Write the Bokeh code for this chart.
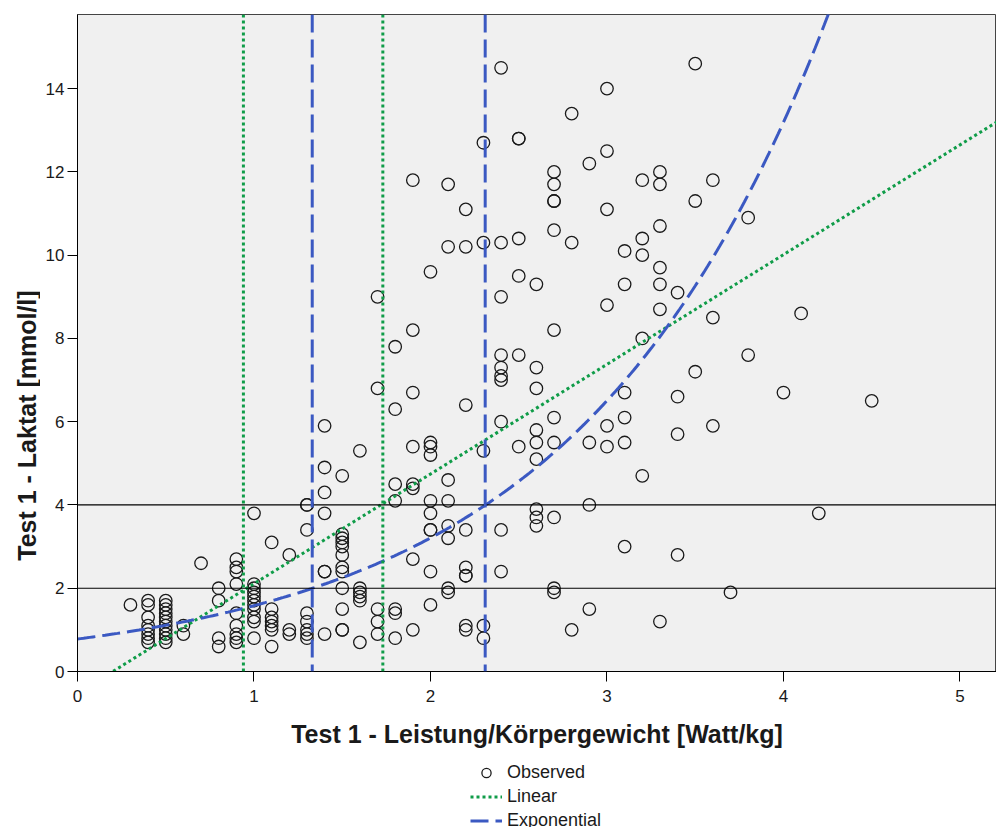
import math
import numpy as np
from bokeh.plotting import figure
from bokeh.models import Range1d, Span, Legend, LegendItem, Label, ColumnDataSource
from bokeh.layouts import column, row
from bokeh.embed import file_html
from bokeh.resources import INLINE

# ---------------- data ----------------
# power levels (Watt/kg) and the lactate values observed at each level (mmol/l)
power_levels = [0.3, 0.4, 0.5, 0.6, 0.7, 0.8, 0.9, 1.0, 1.1, 1.2, 1.3, 1.4, 1.5, 1.6,
                1.7, 1.8, 1.9, 2.0, 2.1, 2.2, 2.3, 2.4, 2.5, 2.6, 2.7, 2.8, 2.9, 3.0,
                3.1, 3.2, 3.3, 3.4, 3.5, 3.6, 3.7, 3.8, 4.0, 4.1, 4.2, 4.5]
lactate_at_level = [
    [1.6],
    [1.7, 1.6, 1.3, 1.1, 1.0, 0.9, 0.8, 0.7],
    [1.7, 1.6, 1.5, 1.4, 1.3, 1.2, 1.1, 1.0, 0.9, 0.8, 0.7],
    [1.1, 0.9],
    [2.6],
    [2.0, 1.7, 0.8, 0.6],
    [2.7, 2.5, 2.4, 2.1, 1.4, 1.1, 0.9, 0.8, 0.7],
    [3.8, 2.1, 2.0, 1.9, 1.8, 1.7, 1.6, 1.5, 1.3, 1.2, 0.8],
    [3.1, 1.5, 1.3, 1.2, 1.1, 1.0, 0.6],
    [2.8, 1.0, 0.9],
    [4.0, 4.0, 3.4, 1.4, 1.2, 1.0, 0.9, 0.8],
    [5.9, 4.9, 4.3, 3.8, 2.4, 2.4, 0.9],
    [4.7, 3.3, 3.2, 3.1, 3.0, 2.8, 2.5, 2.4, 2.0, 1.5, 1.0, 1.0],
    [5.3, 2.0, 1.9, 1.8, 1.7, 0.7],
    [9.0, 6.8, 1.5, 1.2, 0.9],
    [7.8, 6.3, 4.5, 4.1, 1.5, 1.4, 0.8],
    [11.8, 8.2, 6.7, 5.4, 4.5, 4.4, 2.7, 1.0],
    [9.6, 5.5, 5.4, 5.2, 4.1, 3.8, 3.4, 3.4, 2.4, 1.6],
    [11.7, 10.2, 4.6, 4.1, 3.5, 3.2, 2.0, 1.9],
    [11.1, 10.2, 6.4, 3.4, 2.5, 2.3, 2.3, 1.1, 1.0],
    [12.7, 10.3, 5.3, 1.1, 0.8],
    [14.5, 10.3, 9.0, 7.6, 7.3, 7.1, 7.0, 6.0, 3.4, 2.4],
    [12.8, 12.8, 10.4, 9.5, 7.6, 5.4],
    [9.3, 7.3, 6.8, 5.8, 5.5, 5.1, 3.9, 3.7, 3.5],
    [12.0, 11.7, 11.3, 11.3, 10.6, 8.2, 6.1, 5.5, 3.7, 2.0, 1.9],
    [13.4, 10.3, 1.0],
    [12.2, 5.5, 4.0, 1.5],
    [14.0, 12.5, 11.1, 8.8, 5.9, 5.4],
    [10.1, 9.3, 6.7, 6.1, 5.5, 3.0],
    [11.8, 10.4, 10.0, 8.0, 4.7],
    [12.0, 11.7, 10.7, 9.7, 9.3, 8.7, 1.2],
    [9.1, 6.6, 5.7, 2.8],
    [14.6, 11.3, 7.2],
    [11.8, 8.5, 5.9],
    [1.9],
    [10.9, 7.6],
    [6.7],
    [8.6],
    [3.8],
    [6.5],
]

# fitted curves (SPSS curve estimation)
linear_intercept, linear_slope = -0.527, 2.635        # y = b0 + b1*x
exp_scale, exp_rate = 0.78, 0.707                     # y = b0 * exp(b1*x)

# reference lines
ref_lactate = [2, 4]                 # horizontal thresholds (mmol/l)
ref_power_linear = [0.94, 1.73]      # power at 2 and 4 mmol/l, linear fit
ref_power_exp = [1.33, 2.31]         # power at 2 and 4 mmol/l, exponential fit

x_ticks = [0, 1, 2, 3, 4, 5]
y_ticks = [0, 2, 4, 6, 8, 10, 12, 14]

x_title = "Test 1 - Leistung/Körpergewicht [Watt/kg]"
y_title = "Test 1 - Laktat [mmol/l]"
legend_labels = ["Observed", "Linear", "Exponential"]

# ---------------- build ----------------
xs, ys = [], []
for pw, vals in zip(power_levels, lactate_at_level):
    for v in vals:
        xs.append(pw)
        ys.append(v)
obs = ColumnDataSource(dict(x=xs, y=ys))

X_MAX, Y_MAX = 5.207, 15.78
xfit = np.linspace(0, X_MAX, 300)
lin = ColumnDataSource(dict(x=xfit, y=linear_intercept + linear_slope * xfit))
ex = ColumnDataSource(dict(x=xfit, y=exp_scale * np.exp(exp_rate * xfit)))

GREEN = "#0f9c48"
BLUE = "#3b59c2"
FONT = "Liberation Sans"
TEXT = "#1a1a1a"

W_TITLE = 40
W_MAIN = 996 - W_TITLE
H_MAIN = 756
H_LEG = 827 - H_MAIN

circle_style = dict(marker="circle", size=12.5, fill_alpha=0, line_color="#1a1a1a", line_width=1.3)
lin_style = dict(line_color=GREEN, line_width=3, line_dash="3 3")
exp_style = dict(line_color=BLUE, line_width=3, line_dash="18 7")

p = figure(width=W_MAIN, height=H_MAIN, x_range=Range1d(0, X_MAX), y_range=Range1d(0, Y_MAX),
           output_backend="svg", toolbar_location=None,
           min_border_left=77 - W_TITLE, min_border_right=0, min_border_top=14,
           min_border_bottom=H_MAIN - 671,
           background_fill_color="#f0f0f0", border_fill_color="white",
           outline_line_color="#444444", outline_line_width=1)
p.xgrid.visible = False
p.ygrid.visible = False

p.scatter("x", "y", source=obs, **circle_style)

for yv in ref_lactate:
    p.add_layout(Span(location=yv, dimension="width", line_color="black", line_width=1.2))
for xv in ref_power_linear:
    p.add_layout(Span(location=xv, dimension="height", **lin_style))
for xv in ref_power_exp:
    p.add_layout(Span(location=xv, dimension="height", **exp_style))

p.line("x", "y", source=lin, **lin_style)
p.line("x", "y", source=ex, **exp_style)

for ax in (p.xaxis[0], p.yaxis[0]):
    ax.axis_line_color = "black"
    ax.axis_line_width = 1
    ax.major_tick_line_color = "black"
    ax.major_tick_out = 10
    ax.major_tick_in = 0
    ax.minor_tick_line_color = None
    ax.major_label_text_font = FONT
    ax.major_label_text_font_size = "17px"
    ax.major_label_text_color = TEXT

p.xaxis.ticker = x_ticks
p.yaxis.ticker = y_ticks
p.yaxis.major_label_standoff = 3
p.xaxis.major_label_standoff = 8

p.xaxis.axis_label = x_title
p.xaxis.axis_label_text_font = FONT
p.xaxis.axis_label_text_font_style = "bold"
p.xaxis.axis_label_text_font_size = "25px"
p.xaxis.axis_label_text_color = TEXT
p.xaxis.axis_label_standoff = 15

# ---- y title strip (left) ----
pt = figure(width=W_TITLE, height=H_MAIN, x_range=Range1d(0, W_TITLE), y_range=Range1d(0, H_MAIN),
            output_backend="svg", toolbar_location=None, min_border=0,
            outline_line_color=None, border_fill_color="white", background_fill_color="white")
pt.axis.visible = False
pt.grid.visible = False
pt.add_layout(Label(x=26, y=H_MAIN - 473, text=y_title, angle=math.pi / 2,
                    text_align="center", text_baseline="middle", text_font=FONT,
                    text_font_style="bold", text_font_size="25px", text_color=TEXT))

# ---- legend strip (bottom): same series, view placed away from the data ----
pl = figure(width=996, height=H_LEG, x_range=Range1d(-3, -2), y_range=Range1d(-3, -2),
            output_backend="svg", toolbar_location=None, min_border=0,
            outline_line_color=None, border_fill_color="white", background_fill_color="white")
pl.axis.visible = False
pl.grid.visible = False
l_obs = pl.scatter("x", "y", source=obs, **circle_style)
l_lin = pl.line("x", "y", source=lin, **lin_style)
l_exp = pl.line("x", "y", source=ex, **exp_style)
legend = Legend(items=[LegendItem(label=legend_labels[0], renderers=[l_obs]),
                       LegendItem(label=legend_labels[1], renderers=[l_lin]),
                       LegendItem(label=legend_labels[2], renderers=[l_exp])],
                location=(465, -10), orientation="vertical",
                border_line_alpha=0, background_fill_alpha=0,
                label_text_font=FONT, label_text_font_size="18px",
                label_text_color=TEXT,
                glyph_width=32, glyph_height=23, label_height=23, spacing=1,
                padding=5, label_standoff=5, margin=0)
pl.add_layout(legend)

layout = column(row(pt, p, spacing=0), pl, spacing=0)
open("out.html", "w").write(file_html(layout, INLINE))
